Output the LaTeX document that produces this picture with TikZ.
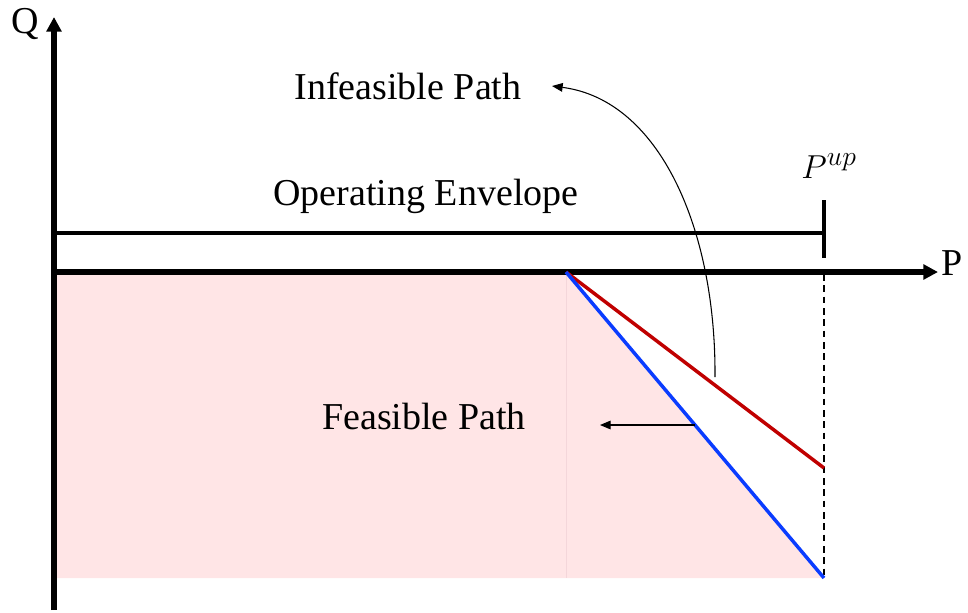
\documentclass[tikz,border=0pt]{standalone}
\usepackage{fontspec}
\setmainfont{Liberation Serif}
\usetikzlibrary{arrows.meta}
\definecolor{feasfill}{RGB}{255,229,230}
\definecolor{feasedge}{RGB}{244,214,218}
\definecolor{infred}{RGB}{192,0,0}
\definecolor{feasblue}{RGB}{10,60,255}
\tikzset{
  axis/.style={line width=3.8pt,-{Triangle[length=11pt,width=11pt]}},
  envline/.style={line width=2.5pt},
  limitline/.style={line width=1.8pt,dash pattern=on 5pt off 3.5pt},
  pathline/.style={line width=2.6pt},
  pointer/.style={line width=0.8pt,-{Triangle[length=8pt,width=6.5pt]}},
  lbl/.style={font=\fontsize{28.5}{34}\selectfont,inner sep=0pt,anchor=base},
}
\begin{document}
\begin{tikzpicture}[x=0.75pt,y=-0.75pt]
\useasboundingbox (0,0) rectangle (968,612);

% key points of the P-Q plane
\coordinate (origin) at (54,272);
\coordinate (qtop) at (54,17);
\coordinate (qbot) at (54,610);
\coordinate (ptip) at (938,272);
\coordinate (knee) at (566,272);
\coordinate (redend) at (824,468);
\coordinate (blueend) at (824,578);
\coordinate (botleft) at (56,578);
\coordinate (envstart) at (54,233);
\coordinate (envend) at (824,233);
\coordinate (ticktop) at (824,200);
\coordinate (tickbot) at (824,258);
\coordinate (dashtop) at (824,274);

% feasible region
\fill[feasfill] (botleft) -- (56,272) -- (knee) -- (blueend) -- cycle;
\draw[feasedge,line width=0.6pt] (knee) -- (566,578);

% operating envelope and upper limit
\draw[envline] (envstart) -- (envend);
\draw[line width=2.5pt] (ticktop) -- (tickbot);
\draw[limitline] (dashtop) -- (blueend);

% axes
\draw[axis] (qbot) -- (qtop);
\draw[axis] (origin) -- (ptip);

% red and blue paths
\draw[pathline,infred] (knee) -- (redend);
\draw[pathline,feasblue] (knee) -- (blueend);

% labels
\node[lbl] (qlab) at (25,33) {Q};
\node[lbl] (plab) at (952,275) {P};
\node[lbl] (pup) at (829,178) {$P^{up}$};
\node[lbl] (infeas) at (408,99) {Infeasible Path};
\node[lbl] (openv) at (426,205) {Operating Envelope};
\node[lbl] (feas) at (424,429) {Feasible Path};

% pointers
\coordinate (curvestart) at (715,377);
\coordinate (curveend) at (552,86);
\draw[pointer] (curvestart) .. controls (716,230) and (660,100) .. (curveend);
\coordinate (hstart) at (695,425);
\coordinate (hend) at (600,425);
\draw[pointer] (hstart) -- (hend);
\end{tikzpicture}
\end{document}
